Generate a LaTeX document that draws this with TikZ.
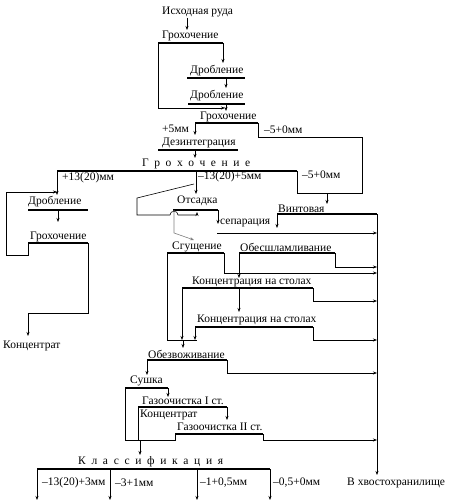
\documentclass[tikz,border=0pt]{standalone}
\usepackage{fontspec}
\setmainfont{Liberation Serif}
\usetikzlibrary{arrows.meta}
\begin{document}
\begin{tikzpicture}[x=1pt,y=-1pt,
  bar/.style={line width=1.8pt},
  conn/.style={line width=0.6pt},
  arr/.style={line width=0.6pt,-{Stealth[length=4pt,width=3pt]}},
  lbl/.style={anchor=west,inner sep=0pt,font=\fontsize{11.5}{13}\selectfont}]
\useasboundingbox[fill=white] (0,0) rectangle (449,503);
% ---- texts
\node[lbl] (ore) at (162,12) {Исходная руда};
\node[lbl] (gr1) at (162,36) {Грохочение};
\node[lbl] (dr1) at (190,71) {Дробление};
\node[lbl] (dr2) at (190,96) {Дробление};
\node[lbl] (gr2) at (200,117) {Грохочение};
\node[lbl] (p5) at (162,129) {+5мм};
\node[lbl] (m5a) at (264,130) {–5+0мм};
\node[lbl] (dez) at (162,143) {Дезинтеграция};
\node[lbl] (gr3) at (142,164) {\makebox[108pt][s]{Г р о х о ч е н и е}};
\node[lbl] (p13) at (62,178) {+13(20)мм};
\node[lbl] (m13) at (198,177) {–13(20)+5мм};
\node[lbl] (m5b) at (302,175) {–5+0мм};
\node[lbl] (dr3) at (28,202) {Дробление};
\node[lbl] (ots) at (177,201) {Отсадка};
\node[lbl] (vin) at (278,209) {Винтовая};
\node[lbl] (sep) at (220,223) {сепарация};
\node[lbl] (gr4) at (30,237) {Грохочение};
\node[lbl] (sg) at (172,247) {Сгущение};
\node[lbl] (obs) at (240,247) {Обесшламливание};
\node[lbl] (kn1) at (192,282) {Концентрация на столах};
\node[lbl] (kn2) at (197,320) {Концентрация на столах};
\node[lbl] (konc1) at (3,346) {Концентрат};
\node[lbl] (obz) at (148,354) {Обезвоживание};
\node[lbl] (su) at (130,381) {Сушка};
\node[lbl] (gz1) at (142,401) {Газоочистка I ст.};
\node[lbl] (konc2) at (140,415) {Концентрат};
\node[lbl] (gz2) at (177,427) {Газоочистка II ст.};
\node[lbl] (kl) at (78,462) {\makebox[145pt][s]{К л а с с и ф и к а ц и я}};
\node[lbl] (f1) at (42,483) {–13(20)+3мм};
\node[lbl] (f2) at (115,483) {–3+1мм};
\node[lbl] (f3) at (200,483) {–1+0,5мм};
\node[lbl] (f4) at (273,483) {–0,5+0мм};
\node[lbl] (tail) at (347,483) {В хвостохранилище};
% ---- bars
\draw[bar] (158,43) -- (223,43);
\draw[bar] (187,78) -- (245,78);
\draw[bar] (188,104) -- (245,104);
\draw[bar] (195,123) -- (258,123);
\draw[bar] (158,150) -- (238,150);
\draw[bar] (57,171) -- (297,171);
\draw[bar] (28,210) -- (88,210);
\draw[bar] (173,210) -- (218,210);
\draw[bar] (277,214) -- (377,214);
\draw[bar] (28,243) -- (88,243);
\draw[bar] (167,253) -- (224,253);
\draw[bar] (239,253) -- (335,253);
\draw[bar] (182,288) -- (313,288);
\draw[bar] (195,327) -- (313,327);
\draw[bar] (147,360) -- (227,360);
\draw[bar] (125,388) -- (168,388);
\draw[bar] (138,407) -- (227,407);
\draw[bar] (175,434) -- (263,434);
\draw[bar] (37,469) -- (270,469);
% ---- connectors
\draw[arr] (187,18) -- (187,30);
\draw[arr] (158,43) -- (158,108) -- (225,108);
\draw[arr] (223,43) -- (223,63);
\draw[arr] (226,78) -- (226,88);
\draw[arr] (226,104) -- (226,111);
\draw[arr] (195,123) -- (195,135);
\draw[conn] (258,123) -- (258,137) -- (362,137) -- (362,193) -- (297,193) -- (297,171);
\draw[arr] (327,193) -- (327,204);
\draw[arr] (195,150) -- (195,158);
\draw[arr] (57,171) -- (57,195);
\draw[arr] (196,171) -- (196,194);
\draw[conn] (194,184) -- (137,198) -- (137,215) -- (170,215)
   .. controls (170,210) and (178,210) .. (178,215) -- (197,215);
\draw[arr] (197,215) -- (197,212);
\draw[arr,gray] (174,210) -- (174,233) -- (194,240);
\draw[arr] (218,210) -- (218,224);
\draw[arr] (277,214) -- (277,228);
\draw[arr] (217,233) -- (377,233);
\draw[arr] (224,253) -- (224,273) -- (377,273);
\draw[arr] (239,253) -- (239,278);
\draw[arr] (335,253) -- (335,267) -- (377,267);
\draw[conn] (167,253) -- (167,340) -- (197,340);
\draw[arr] (182,288) -- (182,340);
\draw[arr] (195,327) -- (195,340);
\draw[arr] (183,340) -- (183,348);
\draw[arr] (239,288) -- (239,312);
\draw[arr] (313,288) -- (313,301) -- (377,301);
\draw[arr] (313,327) -- (313,340) -- (377,340);
\draw[arr] (147,360) -- (147,375);
\draw[arr] (227,360) -- (227,373) -- (377,373);
\draw[conn] (125,388) -- (125,440) -- (175,440) -- (175,434);
\draw[arr] (168,388) -- (168,397);
\draw[conn] (138,407) -- (138,440);
\draw[arr] (227,407) -- (227,420);
\draw[arr] (140,440) -- (140,455);
\draw[arr] (263,434) -- (263,440) -- (377,440);
\draw[arr] (377,214) -- (377,475);
\draw[arr] (37,469) -- (37,500);
\draw[arr] (110,469) -- (110,500);
\draw[arr] (197,469) -- (197,500);
\draw[arr] (270,469) -- (270,500);
\draw[arr] (58,210) -- (58,222);
\draw[arr] (28,243) -- (28,255) -- (6,255) -- (6,192) -- (57,192);
\draw[arr] (88,243) -- (88,313) -- (28,313) -- (28,336);
\end{tikzpicture}
\end{document}
